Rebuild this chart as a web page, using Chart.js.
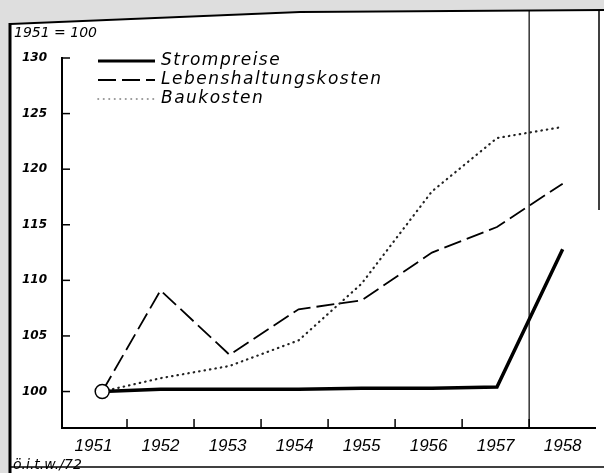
<!DOCTYPE html>
<html>
<head>
<meta charset="utf-8">
<script src="https://cdn.jsdelivr.net/npm/chart.js@4"></script>
<style>
html, body { margin: 0; padding: 0; background: #fff; }
</style>
</head>
<body>
<canvas id="chartIndex" width="604" height="473"></canvas>
<script>
// Jahre (Achsenbeschriftung) und Lage der Punkte
const jahre = [1951, 1952, 1953, 1954, 1955, 1956, 1957, 1958]
const punktJahre = [1951.13, 1952, 1953.03, 1954.06, 1955, 1956.05, 1957.02, 1958]

const strompreise = [100, 100.2, 100.2, 100.2, 100.3, 100.3, 100.4, 112.8]
const lebenshaltungskosten = [100, 109.1, 103.3, 107.4, 108.2, 112.5, 114.8, 118.7]
const baukosten = [100, 101.2, 102.3, 104.6, 109.7, 118.0, 122.8, 123.8]

const yTicks = [100, 105, 110, 115, 120, 125, 130]
const zwischenTicks = [1951.5, 1952.5, 1953.5, 1954.5, 1955.5, 1956.5, 1957.5]
const trennJahr = 1957.5

const namen = ["Strompreise", "Lebenshaltungskosten", "Baukosten"]

function punkte(werte){
    return werte.map((w, i) => ({x: punktJahre[i], y: w}))
}

// setup
const data = {
    datasets: [{
        label: namen[0],
        data: punkte(strompreise),
        borderColor: '#000',
        borderWidth: 3.5,
        pointRadius: strompreise.map((w, i) => i === 0 ? 7 : 0),
        pointBackgroundColor: '#fff',
        pointBorderColor: '#000',
        pointBorderWidth: 1.5,
        tension: 0
    }, {
        label: namen[1],
        data: punkte(lebenshaltungskosten),
        borderColor: '#000',
        borderWidth: 1.8,
        borderDash: [18, 6],
        pointRadius: 0,
        tension: 0
    }, {
        label: namen[2],
        data: punkte(baukosten),
        borderColor: '#222',
        borderWidth: 2.2,
        borderDash: [0.5, 5],
        borderCapStyle: 'round',
        pointRadius: 0,
        tension: 0
    }]
};

const rahmen = {
    id: 'rahmen',
    beforeDraw(chart){
        const ctx = chart.ctx
        ctx.save()
        ctx.fillStyle = '#fff'
        ctx.fillRect(0, 0, 604, 473)
        // grauer Rand vom Scan
        ctx.fillStyle = '#dedede'
        ctx.fillRect(0, 0, 9, 473)
        ctx.beginPath()
        ctx.moveTo(0, 0); ctx.lineTo(604, 0); ctx.lineTo(604, 9)
        ctx.lineTo(300, 11); ctx.lineTo(9, 23); ctx.lineTo(0, 23)
        ctx.closePath(); ctx.fill()
        ctx.strokeStyle = '#000'
        ctx.lineWidth = 3
        ctx.beginPath(); ctx.moveTo(10, 23); ctx.lineTo(10, 473); ctx.stroke()
        ctx.lineWidth = 2
        ctx.beginPath(); ctx.moveTo(10, 24); ctx.lineTo(300, 12); ctx.lineTo(604, 10); ctx.stroke()
        ctx.lineWidth = 1.5
        ctx.beginPath(); ctx.moveTo(10, 467); ctx.lineTo(604, 467); ctx.stroke()
        ctx.lineWidth = 1.5
        ctx.beginPath(); ctx.moveTo(599, 10); ctx.lineTo(599, 210); ctx.stroke()
        ctx.restore()
    },
    afterDraw(chart){
        const ctx = chart.ctx
        const x = chart.scales.x, y = chart.scales.y
        const area = chart.chartArea
        ctx.save()
        ctx.strokeStyle = '#000'
        // Teilstriche nach innen
        ctx.lineWidth = 1.5
        yTicks.forEach(v => {
            const py = y.getPixelForValue(v)
            ctx.beginPath(); ctx.moveTo(area.left, py); ctx.lineTo(area.left + 8, py); ctx.stroke()
        })
        zwischenTicks.forEach(v => {
            const px = x.getPixelForValue(v)
            ctx.beginPath(); ctx.moveTo(px, area.bottom); ctx.lineTo(px, area.bottom - 9); ctx.stroke()
        })
        // senkrechte Trennlinie
        ctx.lineWidth = 1.2
        const tx = x.getPixelForValue(trennJahr)
        ctx.beginPath(); ctx.moveTo(tx, 10); ctx.lineTo(tx, area.bottom); ctx.stroke()

        // Legende
        const legY = [61, 80, 99]
        chart.data.datasets.forEach((ds, i) => {
            ctx.save()
            ctx.strokeStyle = ds.borderColor
            ctx.lineWidth = i === 0 ? 3 : (i === 1 ? 1.8 : 1.6)
            ctx.setLineDash(ds.borderDash || [])
            ctx.lineCap = ds.borderCapStyle || 'butt'
            if (i === 2) ctx.strokeStyle = '#777'
            ctx.beginPath(); ctx.moveTo(98, legY[i]); ctx.lineTo(155, legY[i]); ctx.stroke()
            ctx.restore()
            ctx.fillStyle = '#000'
            ctx.font = 'italic 17px "DejaVu Sans"'
            ctx.letterSpacing = '1.5px'
            ctx.textBaseline = 'middle'
            ctx.textAlign = 'left'
            ctx.fillText(ds.label, 161, legY[i])
        })
        ctx.letterSpacing = '0px'
        ctx.font = 'italic 14px "DejaVu Sans"'
        ctx.textBaseline = 'middle'
        ctx.fillText("1951 = 100", 14, 33)
        ctx.font = 'italic 14px "DejaVu Sans"'
        ctx.fillText("ö.i.t.w./72", 13, 465)
        ctx.restore()
    }
}

// config
const config = {
    type: 'line',
    data,
    options: {
        responsive: false,
        animation: false,
        layout: {
            padding: {left: 0, right: 1, top: 58, bottom: 0}
        },
        scales: {
            x: {
                type: 'linear',
                min: 1950.53,
                max: 1958.49,
                afterBuildTicks: (scale) => { scale.ticks = jahre.map(v => ({value: v})) },
                afterFit: (scale) => { scale.height = 45 },
                grid: { display: false, drawTicks: false },
                border: { display: true, color: '#000', width: 2 },
                ticks: {
                    autoSkip: false,
                    maxRotation: 0,
                    padding: 8,
                    color: '#000',
                    font: { family: 'Liberation Sans', style: 'italic', size: 17 },
                    callback: (v) => String(v)
                }
            },
            y: {
                min: 96.72,
                max: 130,
                afterBuildTicks: (scale) => { scale.ticks = yTicks.map(v => ({value: v})) },
                afterFit: (scale) => { scale.width = 62 },
                grid: { display: false, drawTicks: false },
                border: { display: true, color: '#000', width: 2 },
                ticks: {
                    padding: 15,
                    color: '#000',
                    font: { family: 'DejaVu Sans', style: 'italic', weight: 'bold', size: 12 }
                }
            }
        },
        plugins: {
            legend: { display: false },
            tooltip: { enabled: false }
        }
    },
    plugins: [rahmen]
};

// render init block
const myChart = new Chart(
    document.getElementById('chartIndex'),
    config
);
</script>
</body>
</html>
